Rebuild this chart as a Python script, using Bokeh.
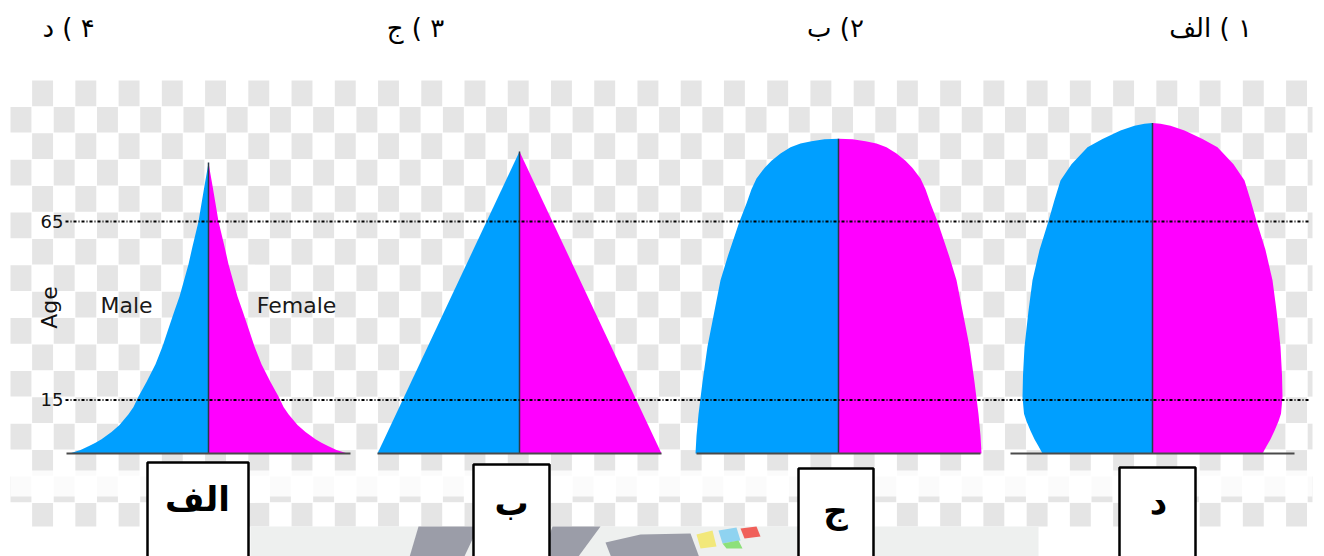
import numpy as np
from math import pi
from bokeh.plotting import figure
from bokeh.models import Range1d
from bokeh.core.properties import value
from bokeh.embed import file_html
from bokeh.resources import INLINE

# ---------------- data ----------------
pyramid_letters = ["الف", "ب", "ج", "د"]

# ages (years) and half-width of each pyramid (population share, drawing units)
ages_a = [0, 1, 2, 3, 4, 6, 8, 11, 13, 16, 20, 25, 30, 35, 40, 44, 48, 53, 58, 65, 70, 75, 79, 81.5]
half_a = [139, 128, 120, 113, 107, 97, 89, 80, 75, 70, 62, 53, 46, 40, 34, 29, 25, 20, 16, 10, 7, 4, 1.5, 0]

ages_b = [0, 84.6]
half_b = [142, 0]

ages_c = [0, 5, 11, 20, 30, 40, 48.5, 55, 60, 65, 70, 74, 77, 80, 82, 84, 85.8, 86.8, 87.5, 88.0, 88.2]
half_c = [143, 142, 140, 136, 131, 124, 118, 111, 105, 99, 92, 87, 82, 74, 67, 58, 48, 38, 27, 14, 0]

ages_d = [0, 2, 4, 6.4, 9, 11.1, 15.8, 22, 29.8, 40, 48.5, 57, 65.1, 71, 76.5, 81, 85.8, 88.1, 90.5, 91.8, 92.4, 92.6]
half_d = [110, 114, 118, 122, 126, 128.5, 130, 129.5, 128, 124, 120, 113, 104, 98, 92, 81, 65, 50, 32, 18, 8, 0]

age_ticks = [15, 65]
age_tick_labels = ["15", "65"]

# answer options (right-to-left isolates)
answer_options = ["\u2067۴ ) د\u2069", "\u2067۳ ) ج\u2069", "\u2067۲) ب\u2069", "\u2067۱ ) الف\u2069"]

# ---------------- layout / style ----------------
W, H = 1324, 556
BLUE = "#009fff"
MAGENTA = "#ff00ff"
PX_PER_AGE = 3.57
BASE_PY = 453
centers = [208, 519, 838, 1152]
base_half = 142

p = figure(width=W, height=H,
           x_range=Range1d(0, W),
           y_range=Range1d((BASE_PY - H) / PX_PER_AGE, BASE_PY / PX_PER_AGE),
           output_backend="svg", toolbar_location=None,
           x_axis_type=None, y_axis_type=None, min_border=0)
p.extra_y_ranges = {"px": Range1d(H, 0)}
p.outline_line_color = None
p.background_fill_color = "white"
p.border_fill_color = "white"

# checkerboard background
tw, th = 21.62, 26.4
cx0, cy0, cx1, cy1 = 10, 80, 1312, 526
L, R, T, B = [], [], [], []
for i in range(18):
    for j in range(62):
        if (i + j) % 2 == 1:
            l = cx0 + j * tw
            t = cy0 + i * th
            if l < cx1 and t < cy1:
                L.append(l); R.append(min(l + tw - 0.7, cx1))
                T.append(t); B.append(min(t + th - 0.7, cy1))
p.quad(left=L, right=R, top=T, bottom=B, y_range_name="px",
       fill_color="#e5e5e5", line_color=None)
# washed-out band under the pyramids
p.quad(left=[cx0], right=[cx1], top=[470], bottom=[496], y_range_name="px",
       fill_color="white", fill_alpha=0.85, line_color=None)
# light band with watermark fragments at the very bottom
p.quad(left=[250], right=[1038], top=[526], bottom=[560], y_range_name="px",
       fill_color="#eef0ef", line_color=None)
p.patches(xs=[[418, 478, 462, 408], [552, 600, 575, 540], [605, 640, 690, 700, 612]],
          ys=[[526, 526, 560, 560], [526, 526, 560, 560], [542, 534, 533, 560, 560]],
          y_range_name="px", fill_color="#9b9da8", line_color=None)
p.patches(xs=[[696, 712, 716, 700], [718, 736, 740, 722], [740, 756, 760, 744], [722, 738, 742, 726]],
          ys=[[534, 530, 546, 548], [530, 527, 540, 543], [528, 526, 536, 538], [543, 540, 548, 548]],
          y_range_name="px", fill_color=["#f2e87a", "#8fd3f0", "#f0605a", "#8de07a"], line_color=None)

# pyramids
for cx, ages, half in zip(centers, [ages_a, ages_b, ages_c, ages_d],
                          [half_a, half_b, half_c, half_d]):
    a = np.array(ages, dtype=float)
    h = np.array(half, dtype=float)
    p.patch(x=np.r_[cx, cx - h], y=np.r_[0, a], fill_color=BLUE, line_color=None)
    p.patch(x=np.r_[cx, cx + h], y=np.r_[0, a], fill_color=MAGENTA, line_color=None)
    p.segment(x0=[cx], y0=[0], x1=[cx], y1=[a[-1]], line_color="#2a3a48", line_width=1.5)
    p.segment(x0=[cx - base_half], y0=[0], x1=[cx + base_half], y1=[0],
              line_color="#4a4a4a", line_width=2)

# dotted age lines
p.segment(x0=[65] * len(age_ticks), y0=age_ticks, x1=[1310] * len(age_ticks), y1=age_ticks,
          line_color="black", line_width=2, line_dash="3 2 1 2")

# axis-like labels
p.text(x=[63] * len(age_ticks), y=age_ticks, text=age_tick_labels,
       text_align="right", text_baseline="middle",
       text_font=value("DejaVu Sans"), text_font_size=value("18px"), text_color="#111111")
p.text(x=[49], y=[307], text=["Age"], angle=pi / 2, y_range_name="px",
       text_align="center", text_baseline="middle",
       text_font=value("DejaVu Sans"), text_font_size=value("22px"), text_color="#111111")
p.text(x=[126, 296], y=[305, 305], text=["Male", "Female"], y_range_name="px",
       text_align="center", text_baseline="middle",
       text_font=value("DejaVu Sans"), text_font_size=value("22px"), text_color="#1a1a1a")

# answer options at top
p.text(x=[68, 415, 835, 1210], y=[27] * 4, text=answer_options, y_range_name="px",
       text_align="center", text_baseline="middle",
       text_font=value("DejaVu Sans"), text_font_size=value("26px"), text_color="black")

# labelled boxes under the pyramids
p.quad(left=[147, 473, 798, 1119], right=[248, 549, 873, 1195],
       top=[462, 464, 468, 467], bottom=[570] * 4, y_range_name="px",
       fill_color="white", line_color="black", line_width=2.5)
p.text(x=[197, 511, 835, 1158], y=[498, 502, 510, 501], text=pyramid_letters,
       y_range_name="px", text_align="center", text_baseline="middle",
       text_font=value("DejaVu Sans"), text_font_style="bold",
       text_font_size=value("34px"), text_color="black")

open("out.html", "w").write(file_html(p, INLINE))
